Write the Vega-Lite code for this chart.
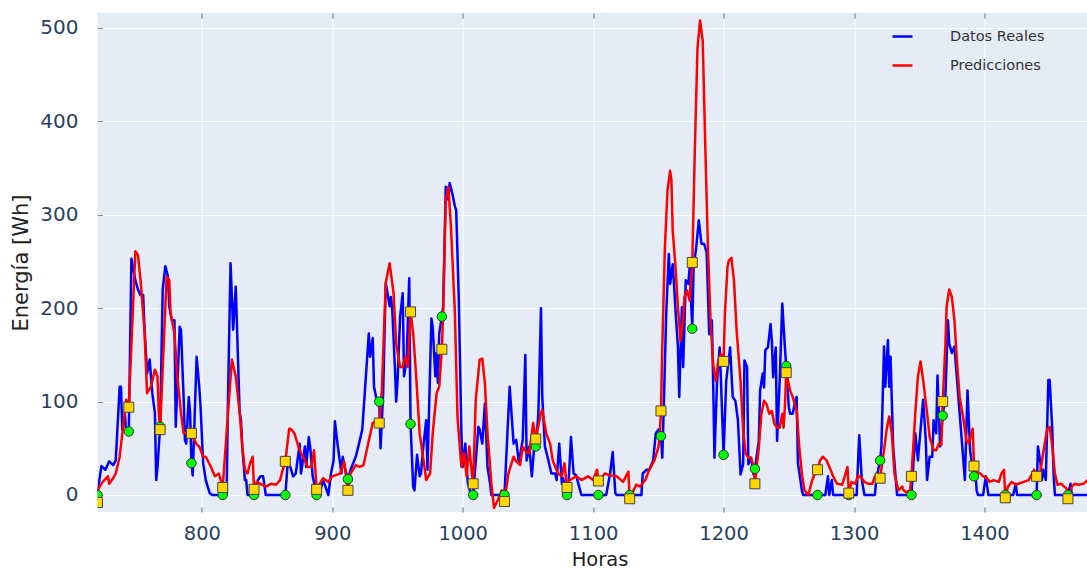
{
  "$schema": "https://vega.github.io/schema/vega-lite/v6.json",
  "width": 990,
  "height": 499,
  "autosize": {"type": "none"},
  "padding": {"left": 97.5, "top": 13, "right": 0, "bottom": 59},
  "background": "white",
  "config": {
    "font": "DejaVu Sans",
    "view": {"stroke": null, "fill": "#E5ECF6"}
  },
  "datasets": {
    "real": [
      {"h":720,"v":2},{"h":723,"v":31},{"h":726,"v":27},{"h":729,"v":36},{"h":732,"v":32},{"h":734,"v":37},{"h":737,"v":116},{"h":738,"v":116},{"h":739,"v":70},{"h":741,"v":87},{"h":742,"v":66},{"h":744,"v":68},{"h":746,"v":253},{"h":749,"v":230},{"h":751,"v":220},{"h":753,"v":214},{"h":755,"v":214},{"h":756,"v":180},{"h":758,"v":130},{"h":760,"v":145},{"h":762,"v":109},{"h":764,"v":88},{"h":765,"v":16},{"h":766,"v":30},{"h":768,"v":73},{"h":770,"v":220},{"h":772,"v":245},{"h":774,"v":234},{"h":775,"v":202},{"h":777,"v":187},{"h":779,"v":187},{"h":780,"v":73},{"h":783,"v":180},{"h":784,"v":177},{"h":786,"v":105},{"h":787,"v":59},{"h":788,"v":55},{"h":790,"v":105},{"h":791,"v":88},{"h":792,"v":34},{"h":793,"v":21},{"h":796,"v":148},{"h":798,"v":116},{"h":799,"v":95},{"h":801,"v":34},{"h":803,"v":16},{"h":806,"v":2},{"h":808,"v":0},{"h":819,"v":0},{"h":820,"v":100},{"h":822,"v":248},{"h":824,"v":177},{"h":826,"v":223},{"h":829,"v":88},{"h":830,"v":80},{"h":831,"v":52},{"h":833,"v":16},{"h":834,"v":16},{"h":835,"v":0},{"h":841,"v":0},{"h":843,"v":16},{"h":845,"v":20},{"h":847,"v":20},{"h":849,"v":0},{"h":864,"v":0},{"h":866,"v":37},{"h":867,"v":34},{"h":870,"v":20},{"h":872,"v":23},{"h":875,"v":55},{"h":876,"v":23},{"h":879,"v":52},{"h":880,"v":30},{"h":882,"v":62},{"h":883,"v":52},{"h":885,"v":20},{"h":888,"v":0},{"h":890,"v":0},{"h":893,"v":16},{"h":897,"v":0},{"h":899,"v":23},{"h":901,"v":37},{"h":902,"v":79},{"h":904,"v":55},{"h":907,"v":23},{"h":908,"v":41},{"h":910,"v":27},{"h":912,"v":17},{"h":914,"v":27},{"h":918,"v":41},{"h":920,"v":52},{"h":923,"v":70},{"h":928,"v":173},{"h":929,"v":148},{"h":931,"v":168},{"h":932,"v":116},{"h":934,"v":102},{"h":936,"v":100},{"h":937,"v":50},{"h":939,"v":109},{"h":941,"v":227},{"h":944,"v":202},{"h":945,"v":212},{"h":946,"v":198},{"h":948,"v":137},{"h":949,"v":100},{"h":950,"v":120},{"h":952,"v":191},{"h":954,"v":216},{"h":955,"v":127},{"h":957,"v":145},{"h":959,"v":232},{"h":960,"v":76},{"h":962,"v":9},{"h":963,"v":5},{"h":965,"v":43},{"h":967,"v":20},{"h":968,"v":23},{"h":970,"v":55},{"h":972,"v":80},{"h":973,"v":27},{"h":976,"v":189},{"h":977,"v":180},{"h":979,"v":127},{"h":980,"v":152},{"h":981,"v":120},{"h":982,"v":173},{"h":984,"v":191},{"h":985,"v":202},{"h":987,"v":330},{"h":989,"v":316},{"h":990,"v":334},{"h":992,"v":323},{"h":994,"v":309},{"h":995,"v":305},{"h":997,"v":209},{"h":999,"v":66},{"h":1000,"v":30},{"h":1002,"v":55},{"h":1003,"v":30},{"h":1004,"v":12},{"h":1006,"v":2},{"h":1008,"v":0},{"h":1012,"v":73},{"h":1013,"v":70},{"h":1015,"v":55},{"h":1017,"v":98},{"h":1019,"v":30},{"h":1021,"v":12},{"h":1022,"v":0},{"h":1032,"v":0},{"h":1036,"v":116},{"h":1039,"v":55},{"h":1041,"v":59},{"h":1043,"v":35},{"h":1046,"v":59},{"h":1048,"v":150},{"h":1049,"v":37},{"h":1051,"v":52},{"h":1053,"v":20},{"h":1055,"v":55},{"h":1056,"v":52},{"h":1058,"v":87},{"h":1060,"v":200},{"h":1061,"v":105},{"h":1063,"v":52},{"h":1065,"v":41},{"h":1068,"v":23},{"h":1071,"v":23},{"h":1072,"v":16},{"h":1074,"v":55},{"h":1076,"v":12},{"h":1077,"v":18},{"h":1080,"v":0},{"h":1081,"v":9},{"h":1083,"v":62},{"h":1085,"v":23},{"h":1087,"v":21},{"h":1090,"v":5},{"h":1091,"v":0},{"h":1110,"v":0},{"h":1113,"v":23},{"h":1115,"v":46},{"h":1117,"v":2},{"h":1118,"v":0},{"h":1137,"v":0},{"h":1138,"v":23},{"h":1141,"v":27},{"h":1143,"v":27},{"h":1146,"v":37},{"h":1148,"v":66},{"h":1150,"v":70},{"h":1152,"v":63},{"h":1153,"v":40},{"h":1154,"v":87},{"h":1156,"v":194},{"h":1158,"v":258},{"h":1159,"v":226},{"h":1161,"v":247},{"h":1162,"v":226},{"h":1163,"v":201},{"h":1165,"v":158},{"h":1166,"v":105},{"h":1168,"v":201},{"h":1169,"v":137},{"h":1171,"v":230},{"h":1173,"v":226},{"h":1174,"v":244},{"h":1176,"v":178},{"h":1177,"v":244},{"h":1179,"v":265},{"h":1181,"v":294},{"h":1183,"v":269},{"h":1185,"v":269},{"h":1187,"v":260},{"h":1189,"v":172},{"h":1191,"v":187},{"h":1192,"v":122},{"h":1193,"v":40},{"h":1195,"v":122},{"h":1197,"v":158},{"h":1198,"v":122},{"h":1200,"v":43},{"h":1202,"v":122},{"h":1205,"v":158},{"h":1207,"v":105},{"h":1209,"v":101},{"h":1211,"v":80},{"h":1213,"v":22},{"h":1215,"v":33},{"h":1216,"v":144},{"h":1218,"v":137},{"h":1219,"v":33},{"h":1221,"v":40},{"h":1223,"v":22},{"h":1224,"v":28},{"h":1227,"v":58},{"h":1228,"v":112},{"h":1230,"v":130},{"h":1231,"v":115},{"h":1232,"v":155},{"h":1234,"v":158},{"h":1236,"v":183},{"h":1237,"v":165},{"h":1238,"v":126},{"h":1240,"v":158},{"h":1241,"v":58},{"h":1243,"v":122},{"h":1245,"v":205},{"h":1247,"v":158},{"h":1248,"v":138},{"h":1250,"v":94},{"h":1251,"v":87},{"h":1253,"v":87},{"h":1255,"v":101},{"h":1256,"v":105},{"h":1257,"v":34},{"h":1259,"v":15},{"h":1260,"v":5},{"h":1261,"v":0},{"h":1278,"v":0},{"h":1280,"v":20},{"h":1281,"v":0},{"h":1283,"v":16},{"h":1284,"v":0},{"h":1302,"v":0},{"h":1304,"v":64},{"h":1306,"v":16},{"h":1308,"v":0},{"h":1316,"v":0},{"h":1317,"v":16},{"h":1320,"v":37},{"h":1321,"v":52},{"h":1323,"v":159},{"h":1324,"v":116},{"h":1326,"v":166},{"h":1327,"v":116},{"h":1328,"v":148},{"h":1330,"v":52},{"h":1333,"v":0},{"h":1344,"v":0},{"h":1347,"v":66},{"h":1349,"v":37},{"h":1351,"v":70},{"h":1353,"v":102},{"h":1355,"v":59},{"h":1356,"v":16},{"h":1358,"v":41},{"h":1360,"v":41},{"h":1361,"v":80},{"h":1363,"v":66},{"h":1364,"v":128},{"h":1366,"v":52},{"h":1368,"v":85},{"h":1370,"v":105},{"h":1372,"v":187},{"h":1373,"v":162},{"h":1375,"v":152},{"h":1377,"v":159},{"h":1379,"v":123},{"h":1381,"v":87},{"h":1383,"v":52},{"h":1385,"v":16},{"h":1387,"v":112},{"h":1389,"v":48},{"h":1391,"v":27},{"h":1392,"v":20},{"h":1393,"v":27},{"h":1394,"v":5},{"h":1395,"v":0},{"h":1399,"v":0},{"h":1401,"v":20},{"h":1403,"v":0},{"h":1422,"v":0},{"h":1424,"v":12},{"h":1425,"v":0},{"h":1440,"v":0},{"h":1441,"v":52},{"h":1443,"v":34},{"h":1444,"v":16},{"h":1445,"v":27},{"h":1447,"v":16},{"h":1449,"v":123},{"h":1450,"v":123},{"h":1452,"v":70},{"h":1453,"v":23},{"h":1454,"v":0},{"h":1464,"v":0},{"h":1466,"v":12},{"h":1467,"v":0},{"h":1479,"v":0}
    ],
    "pred": [
      {"h":720,"v":5},{"h":724,"v":14},{"h":728,"v":20},{"h":729,"v":12},{"h":732,"v":18},{"h":734,"v":23},{"h":737,"v":41},{"h":742,"v":102},{"h":744,"v":94},{"h":749,"v":261},{"h":751,"v":257},{"h":753,"v":230},{"h":756,"v":177},{"h":758,"v":109},{"h":761,"v":116},{"h":764,"v":134},{"h":766,"v":127},{"h":767,"v":88},{"h":768,"v":70},{"h":773,"v":234},{"h":775,"v":230},{"h":776,"v":195},{"h":779,"v":173},{"h":781,"v":130},{"h":784,"v":88},{"h":786,"v":66},{"h":788,"v":66},{"h":792,"v":66},{"h":796,"v":54},{"h":798,"v":52},{"h":801,"v":41},{"h":803,"v":41},{"h":807,"v":30},{"h":810,"v":20},{"h":813,"v":23},{"h":816,"v":8},{"h":823,"v":145},{"h":826,"v":127},{"h":829,"v":88},{"h":831,"v":52},{"h":833,"v":27},{"h":835,"v":23},{"h":837,"v":34},{"h":839,"v":41},{"h":840,"v":6},{"h":842,"v":14},{"h":845,"v":12},{"h":849,"v":9},{"h":853,"v":12},{"h":857,"v":11},{"h":860,"v":16},{"h":862,"v":27},{"h":864,"v":36},{"h":867,"v":71},{"h":868,"v":71},{"h":871,"v":66},{"h":874,"v":52},{"h":876,"v":45},{"h":879,"v":37},{"h":881,"v":30},{"h":884,"v":30},{"h":886,"v":48},{"h":888,"v":6},{"h":890,"v":11},{"h":893,"v":18},{"h":897,"v":14},{"h":900,"v":20},{"h":906,"v":23},{"h":909,"v":36},{"h":912,"v":5},{"h":914,"v":23},{"h":918,"v":32},{"h":921,"v":30},{"h":924,"v":32},{"h":927,"v":52},{"h":931,"v":77},{"h":934,"v":80},{"h":936,"v":77},{"h":938,"v":112},{"h":941,"v":227},{"h":944,"v":248},{"h":947,"v":216},{"h":949,"v":162},{"h":952,"v":137},{"h":954,"v":137},{"h":956,"v":148},{"h":958,"v":137},{"h":960,"v":196},{"h":962,"v":173},{"h":964,"v":134},{"h":967,"v":66},{"h":970,"v":37},{"h":972,"v":16},{"h":975,"v":23},{"h":977,"v":66},{"h":980,"v":109},{"h":982,"v":116},{"h":984,"v":156},{"h":985,"v":195},{"h":987,"v":316},{"h":989,"v":330},{"h":991,"v":287},{"h":994,"v":195},{"h":996,"v":84},{"h":999,"v":30},{"h":1001,"v":45},{"h":1003,"v":20},{"h":1005,"v":52},{"h":1007,"v":23},{"h":1008,"v":12},{"h":1010,"v":102},{"h":1013,"v":145},{"h":1015,"v":146},{"h":1017,"v":120},{"h":1019,"v":66},{"h":1022,"v":12},{"h":1024,"v":-14},{"h":1027,"v":-5},{"h":1030,"v":5},{"h":1032,"v":-7},{"h":1035,"v":23},{"h":1039,"v":41},{"h":1041,"v":36},{"h":1044,"v":32},{"h":1046,"v":52},{"h":1049,"v":45},{"h":1051,"v":45},{"h":1054,"v":77},{"h":1056,"v":60},{"h":1060,"v":88},{"h":1061,"v":91},{"h":1064,"v":66},{"h":1067,"v":55},{"h":1069,"v":37},{"h":1073,"v":23},{"h":1076,"v":20},{"h":1078,"v":34},{"h":1080,"v":8},{"h":1082,"v":16},{"h":1087,"v":20},{"h":1091,"v":16},{"h":1096,"v":20},{"h":1100,"v":16},{"h":1103,"v":27},{"h":1104,"v":15},{"h":1109,"v":23},{"h":1113,"v":21},{"h":1118,"v":20},{"h":1123,"v":14},{"h":1127,"v":25},{"h":1128,"v":-4},{"h":1133,"v":11},{"h":1136,"v":9},{"h":1140,"v":16},{"h":1143,"v":27},{"h":1147,"v":37},{"h":1150,"v":51},{"h":1151,"v":62},{"h":1152,"v":90},{"h":1153,"v":158},{"h":1155,"v":265},{"h":1157,"v":326},{"h":1159,"v":347},{"h":1160,"v":337},{"h":1161,"v":283},{"h":1163,"v":247},{"h":1165,"v":201},{"h":1167,"v":165},{"h":1169,"v":187},{"h":1170,"v":212},{"h":1172,"v":219},{"h":1174,"v":208},{"h":1176,"v":249},{"h":1178,"v":372},{"h":1180,"v":479},{"h":1182,"v":508},{"h":1184,"v":486},{"h":1186,"v":372},{"h":1188,"v":265},{"h":1190,"v":187},{"h":1192,"v":140},{"h":1194,"v":122},{"h":1196,"v":144},{"h":1198,"v":151},{"h":1200,"v":143},{"h":1201,"v":194},{"h":1203,"v":244},{"h":1204,"v":251},{"h":1206,"v":254},{"h":1208,"v":229},{"h":1210,"v":176},{"h":1213,"v":122},{"h":1215,"v":69},{"h":1217,"v":44},{"h":1219,"v":40},{"h":1221,"v":40},{"h":1223,"v":30},{"h":1224,"v":12},{"h":1227,"v":51},{"h":1229,"v":87},{"h":1231,"v":101},{"h":1233,"v":97},{"h":1235,"v":87},{"h":1237,"v":90},{"h":1239,"v":76},{"h":1241,"v":72},{"h":1243,"v":72},{"h":1245,"v":87},{"h":1246,"v":72},{"h":1247,"v":94},{"h":1248,"v":131},{"h":1251,"v":112},{"h":1253,"v":105},{"h":1256,"v":90},{"h":1258,"v":52},{"h":1260,"v":23},{"h":1262,"v":5},{"h":1265,"v":0},{"h":1268,"v":16},{"h":1270,"v":23},{"h":1272,"v":27},{"h":1274,"v":37},{"h":1276,"v":41},{"h":1279,"v":37},{"h":1282,"v":27},{"h":1284,"v":20},{"h":1287,"v":12},{"h":1291,"v":11},{"h":1292,"v":16},{"h":1295,"v":30},{"h":1296,"v":2},{"h":1298,"v":14},{"h":1301,"v":12},{"h":1303,"v":21},{"h":1306,"v":18},{"h":1308,"v":14},{"h":1311,"v":12},{"h":1314,"v":12},{"h":1316,"v":20},{"h":1319,"v":23},{"h":1320,"v":18},{"h":1323,"v":48},{"h":1325,"v":70},{"h":1327,"v":84},{"h":1329,"v":66},{"h":1331,"v":23},{"h":1334,"v":5},{"h":1337,"v":9},{"h":1338,"v":5},{"h":1340,"v":3},{"h":1343,"v":5},{"h":1344,"v":20},{"h":1347,"v":88},{"h":1349,"v":127},{"h":1351,"v":143},{"h":1353,"v":123},{"h":1356,"v":88},{"h":1358,"v":62},{"h":1361,"v":48},{"h":1363,"v":48},{"h":1365,"v":55},{"h":1367,"v":54},{"h":1368,"v":100},{"h":1370,"v":159},{"h":1371,"v":202},{"h":1373,"v":220},{"h":1375,"v":212},{"h":1377,"v":187},{"h":1379,"v":141},{"h":1381,"v":105},{"h":1384,"v":80},{"h":1386,"v":59},{"h":1388,"v":55},{"h":1390,"v":66},{"h":1391,"v":71},{"h":1392,"v":31},{"h":1394,"v":25},{"h":1397,"v":23},{"h":1399,"v":20},{"h":1402,"v":18},{"h":1404,"v":14},{"h":1407,"v":16},{"h":1411,"v":14},{"h":1413,"v":23},{"h":1415,"v":27},{"h":1416,"v":-3},{"h":1418,"v":9},{"h":1421,"v":14},{"h":1424,"v":11},{"h":1426,"v":12},{"h":1430,"v":14},{"h":1434,"v":16},{"h":1438,"v":27},{"h":1440,"v":20},{"h":1442,"v":16},{"h":1445,"v":45},{"h":1448,"v":70},{"h":1450,"v":73},{"h":1452,"v":52},{"h":1454,"v":23},{"h":1456,"v":11},{"h":1459,"v":12},{"h":1461,"v":9},{"h":1463,"v":7},{"h":1464,"v":-4},{"h":1467,"v":9},{"h":1469,"v":12},{"h":1472,"v":11},{"h":1476,"v":12},{"h":1479,"v":16}
    ],
    "markReal": [
      {"h":720,"v":0},{"h":744,"v":68},{"h":768,"v":73},{"h":792,"v":34},{"h":816,"v":0},{"h":840,"v":0},{"h":864,"v":0},{"h":888,"v":0},{"h":912,"v":17},{"h":936,"v":100},{"h":960,"v":76},{"h":984,"v":191},{"h":1008,"v":0},{"h":1032,"v":0},{"h":1056,"v":52},{"h":1080,"v":0},{"h":1104,"v":0},{"h":1128,"v":0},{"h":1152,"v":63},{"h":1176,"v":178},{"h":1200,"v":43},{"h":1224,"v":28},{"h":1248,"v":138},{"h":1272,"v":0},{"h":1296,"v":0},{"h":1320,"v":37},{"h":1344,"v":0},{"h":1368,"v":85},{"h":1392,"v":20},{"h":1416,"v":0},{"h":1440,"v":0},{"h":1464,"v":0}
    ],
    "markPred": [
      {"h":720,"v":-8},{"h":744,"v":94},{"h":768,"v":70},{"h":792,"v":66},{"h":816,"v":8},{"h":840,"v":6},{"h":864,"v":36},{"h":888,"v":6},{"h":912,"v":5},{"h":936,"v":77},{"h":960,"v":196},{"h":984,"v":156},{"h":1008,"v":12},{"h":1032,"v":-7},{"h":1056,"v":60},{"h":1080,"v":8},{"h":1104,"v":15},{"h":1128,"v":-4},{"h":1152,"v":90},{"h":1176,"v":249},{"h":1200,"v":143},{"h":1224,"v":12},{"h":1248,"v":131},{"h":1272,"v":27},{"h":1296,"v":2},{"h":1320,"v":18},{"h":1344,"v":20},{"h":1368,"v":100},{"h":1392,"v":31},{"h":1416,"v":-3},{"h":1440,"v":20},{"h":1464,"v":-4}
    ]
  },
  "layer": [
    {
      "data": {"name": "real"},
      "mark": {"type": "line", "clip": true, "strokeWidth": 2.5, "strokeJoin": "round"},
      "encoding": {
        "x": {"field": "h", "type": "quantitative", "scale": {"domain": [720, 1479], "nice": false, "zero": false},
          "axis": {"orient": "bottom", "values": [800, 900, 1000, 1100, 1200, 1300, 1400], "format": "d", "grid": true, "gridColor": "white", "gridWidth": 1, "domain": false,
            "ticks": true, "tickSize": -5, "tickColor": "#666", "tickWidth": 1,
            "labelFont": "DejaVu Sans", "labelFontSize": 19.5, "labelColor": "#2a3f5f", "labelPadding": 17.5, "labelFlush": false,
            "title": "Horas", "titleFont": "DejaVu Sans", "titleFontSize": 19.5, "titleFontWeight": "normal", "titleColor": "#222", "titleX": 502, "titleY": 47, "titleBaseline": "middle", "titleAlign": "center"}},
        "y": {"field": "v", "type": "quantitative", "scale": {"domain": [-18.2, 516], "nice": false, "zero": false},
          "axis": {"orient": "left", "values": [0, 100, 200, 300, 400, 500], "format": "d", "grid": true, "gridColor": "white", "gridWidth": 1, "domain": false,
            "ticks": true, "tickSize": -5, "tickColor": "#888", "tickWidth": 1,
            "labelFont": "DejaVu Sans", "labelFontSize": 20, "labelColor": "#2a3f5f", "labelPadding": 24.5, "labelFlush": false,
            "title": "Energía [Wh]", "titleFont": "DejaVu Sans", "titleFontSize": 21, "titleFontWeight": "normal", "titleColor": "#222", "titleX": -76.5, "titleY": 249.5, "titleAngle": -90, "titleBaseline": "middle", "titleAlign": "center"}},
        "color": {"datum": "Datos Reales", "type": "nominal",
          "scale": {"domain": ["Datos Reales", "Predicciones"], "range": ["#0000ff", "#ff0000"]},
          "legend": {"orient": "none", "legendX": 793.5, "legendY": 12, "title": null, "symbolType": "stroke", "symbolSize": 400, "symbolStrokeWidth": 2.5,
            "labelOffset": 36, "labelFont": "DejaVu Sans", "labelFontSize": 14.5, "labelColor": "#333", "rowPadding": 11, "padding": 0}}
      }
    },
    {
      "data": {"name": "pred"},
      "mark": {"type": "line", "clip": true, "strokeWidth": 2.5, "strokeJoin": "round"},
      "encoding": {
        "x": {"field": "h", "type": "quantitative", "axis": null},
        "y": {"field": "v", "type": "quantitative", "axis": null},
        "color": {"datum": "Predicciones", "type": "nominal"}
      }
    },
    {
      "data": {"name": "markReal"},
      "mark": {"type": "point", "shape": "circle", "filled": true, "clip": true, "size": 90, "fill": "#00ff00", "stroke": "#333", "strokeWidth": 1, "opacity": 1},
      "encoding": {
        "x": {"field": "h", "type": "quantitative", "axis": null},
        "y": {"field": "v", "type": "quantitative", "axis": null}
      }
    },
    {
      "data": {"name": "markPred"},
      "mark": {"type": "point", "shape": "square", "filled": true, "clip": true, "size": 100, "fill": "#ffd700", "stroke": "#444", "strokeWidth": 1, "opacity": 1},
      "encoding": {
        "x": {"field": "h", "type": "quantitative",
          "axis": {"orient": "top", "values": [800, 900, 1000, 1100, 1200, 1300, 1400], "grid": false, "domain": false, "labels": false, "title": null, "ticks": true, "tickSize": -5, "tickColor": "#666", "tickWidth": 1}},
        "y": {"field": "v", "type": "quantitative", "axis": null}
      }
    }
  ],
  "resolve": {"axis": {"x": "independent", "y": "independent"}}
}
